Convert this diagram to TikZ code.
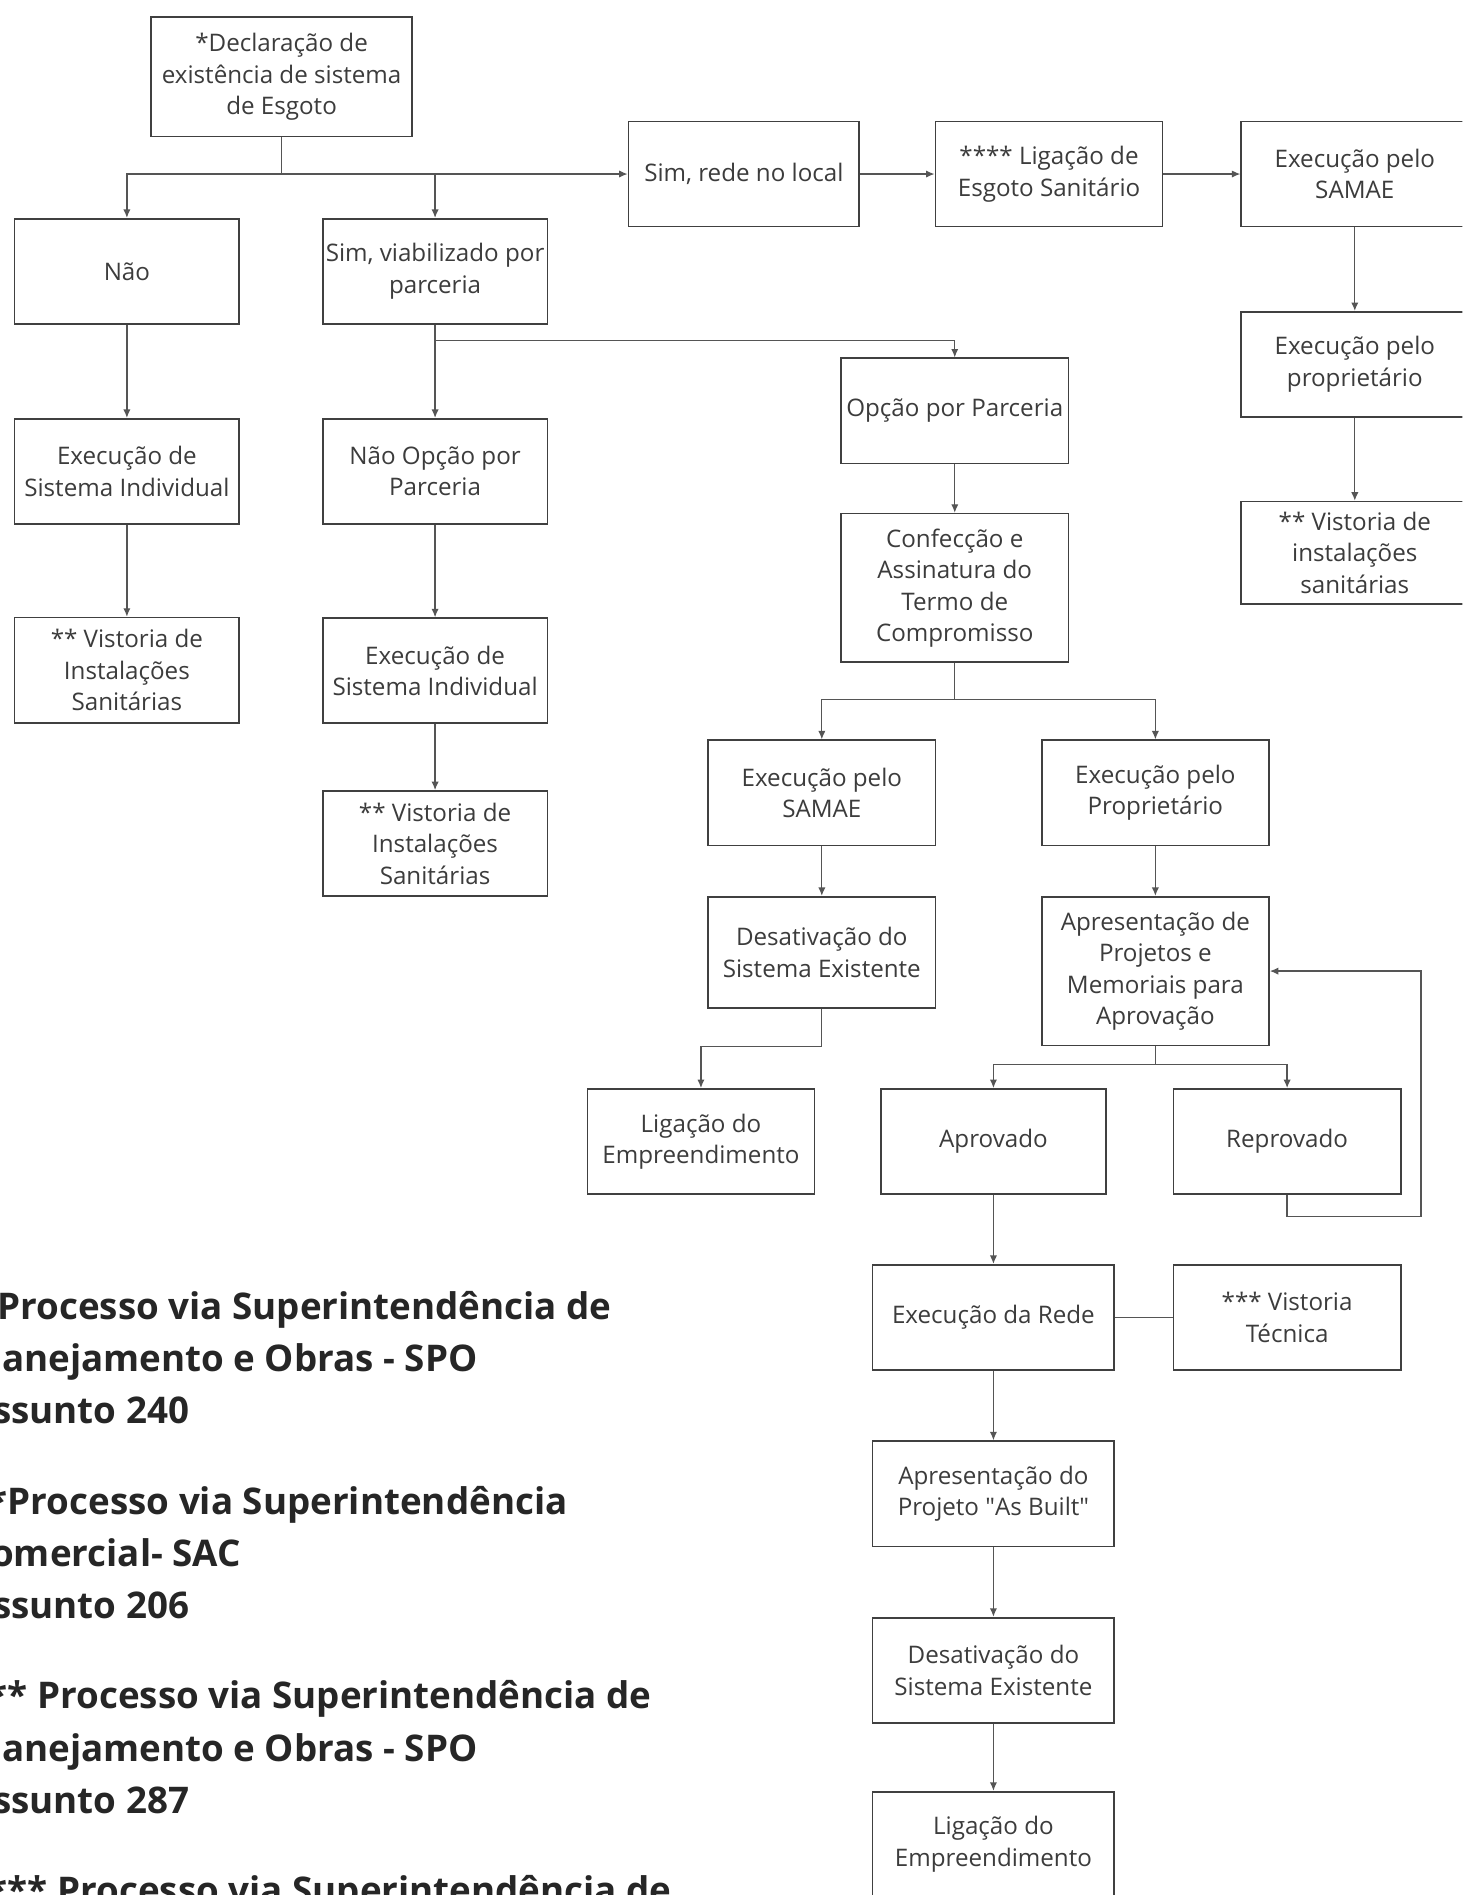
\documentclass[tikz,border=0pt]{standalone}
\usepackage{fontspec}
\setmainfont{Open Sans}
\usetikzlibrary{arrows.meta}
\definecolor{bord}{HTML}{404040}
\definecolor{connc}{HTML}{555555}
\definecolor{txt}{HTML}{3C3C3C}
\definecolor{leg}{HTML}{262626}
\newcommand{\sq}{\XeTeXglyph\XeTeXcharglyph"22\relax}
\begin{document}
\begin{tikzpicture}[x=0.5pt,y=-0.5pt,
  fbox/.style={draw=bord, line width=0.7pt, fill=white, align=center, inner xsep=0pt, inner ysep=1pt,
    text=txt, font=\fontsize{10}{13}\selectfont, minimum width=93pt, minimum height=43.5pt},
  conn/.style={draw=connc, line width=0.55pt},
  arr/.style={conn, -{Latex[length=3.5pt,width=3pt]}},
  legline/.style={anchor=base west, inner sep=0pt, font=\fontsize{15.2}{17}\selectfont\bfseries, text=leg}]
\useasboundingbox (0,0) rectangle (1210,1568);
\clip (0,0) rectangle (1210,1568);
\fill[white] (0,0) rectangle (1210,1568);

% top row
\node[fbox, minimum width=108pt, minimum height=49.5pt] (decl) at (233,63.5) {*Declaração de\\existência de sistema\\de Esgoto};
\node[fbox, minimum width=95.5pt] (simlocal) at (615.5,144) {Sim, rede no local};
\node[fbox, minimum width=94pt] (ligesg) at (868,144) {**** Ligação de\\Esgoto Sanitário};
\node[fbox, minimum width=94pt] (samaeR) at (1121,144) {Execução pelo\\SAMAE};
\node[fbox, minimum width=94pt] (propR) at (1121,301.5) {Execução pelo\\proprietário};
\node[fbox, minimum width=94pt, minimum height=42.5pt] (vistR) at (1121,457.5) {** Vistoria de\\instalações\\sanitárias};

% left columns
\node[fbox] (nao) at (105,224.5) {Não};
\node[fbox] (simparc) at (360,224.5) {Sim, viabilizado por\\parceria};
\node[fbox] (execL) at (105,390) {Execução de\\Sistema Individual};
\node[fbox] (vistL) at (105,554.5) {** Vistoria de\\Instalações\\Sanitárias};
\node[fbox] (naoopc) at (360,390) {Não Opção por\\Parceria};
\node[fbox] (execM) at (360,555) {Execução de\\Sistema Individual};
\node[fbox] (vistM) at (360,698) {** Vistoria de\\Instalações\\Sanitárias};

% partnership branch
\node[fbox, minimum width=94pt] (opc) at (790,340) {Opção por Parceria};
\node[fbox, minimum width=94pt, minimum height=61.5pt] (confec) at (790,486.5) {Confecção e\\Assinatura do\\Termo de\\Compromisso};
\node[fbox, minimum width=94pt] (samaeM) at (680,656) {Execução pelo\\SAMAE};
\node[fbox, minimum width=94pt] (propM) at (956,656) {Execução pelo\\Proprietário};
\node[fbox, minimum width=94pt, minimum height=46pt] (desatM) at (680,788) {Desativação do\\Sistema Existente};
\node[fbox, minimum width=94pt, minimum height=61.5pt] (apres) at (956,803.5) {Apresentação de\\Projetos e\\Memoriais para\\Aprovação};
\node[fbox, minimum width=94pt] (ligM) at (580,944.5) {Ligação do\\Empreendimento};
\node[fbox] (aprov) at (822,944.5) {Aprovado};
\node[fbox, minimum width=94pt] (reprov) at (1065,944.5) {Reprovado};
\node[fbox, minimum width=100pt] (rede) at (822,1090) {Execução da Rede};
\node[fbox, minimum width=94pt] (vtec) at (1065,1090) {*** Vistoria\\Técnica};
\node[fbox, minimum width=100pt] (asb) at (822,1236) {Apresentação do\\Projeto \sq As Built\sq};
\node[fbox, minimum width=100pt] (desatB) at (822,1382) {Desativação do\\Sistema Existente};
\node[fbox, minimum width=100pt] (ligB) at (822,1526) {Ligação do\\Empreendimento};

% connectors
\coordinate (j1) at (decl.south |- simlocal.west);
\draw[conn] (decl.south) -- (j1);
\draw[arr] (j1) -- (simlocal.west);
\draw[arr] (j1) -| (nao.north);
\draw[arr] (j1) -| (simparc.north);
\draw[arr] (simlocal) -- (ligesg);
\draw[arr] (ligesg) -- (samaeR);
\draw[arr] (samaeR) -- (propR);
\draw[arr] (propR) -- (vistR);
\draw[arr] (nao) -- (execL);
\draw[arr] (execL) -- (vistL);
\draw[arr] (simparc) -- (naoopc);
\draw[arr] (naoopc) -- (execM);
\draw[arr] (execM) -- (vistM);
\coordinate (j2) at ([yshift=-6.5pt]simparc.south);
\draw[arr] (j2) -| (opc.north);
\draw[arr] (opc) -- (confec);
\coordinate (j3) at ([yshift=-15pt]confec.south);
\draw[conn] (confec.south) -- (j3);
\draw[arr] (j3) -| (samaeM.north);
\draw[arr] (j3) -| (propM.north);
\draw[arr] (samaeM) -- (desatM);
\draw[arr] (propM) -- (apres);
\coordinate (j5) at ([yshift=-15.5pt]desatM.south);
\draw[arr] (desatM.south) -- (j5) -| (ligM.north);
\coordinate (j4) at ([yshift=-7.5pt]apres.south);
\draw[conn] (apres.south) -- (j4);
\draw[arr] (j4) -| (aprov.north);
\draw[arr] (j4) -| (reprov.north);
\coordinate (lp) at ([xshift=62.5pt]apres.east);
\coordinate (lq) at ([yshift=-9pt]reprov.south);
\draw[arr] (reprov.south) -- (lq) -| (lp) -- (apres.east);
\draw[arr] (aprov) -- (rede);
\draw[conn] (rede) -- (vtec);
\draw[arr] (rede) -- (asb);
\draw[arr] (asb) -- (desatB);
\draw[arr] (desatB) -- (ligB);

% legend (cut by the left and bottom edges, as in the reference)
\node[legline] (l1a) at (-27,1091.6) {* Processo via Superintendência de};
\node[legline] (l1b) at (-27,1134.9) {Planejamento e Obras - SPO};
\node[legline] (l1c) at (-27,1178.2) {Assunto 240};
\node[legline] (l2a) at (-27,1252.8) {**Processo via Superintendência};
\node[legline] (l2b) at (-27,1296.1) {Comercial- SAC};
\node[legline] (l2c) at (-27,1339.4) {Assunto 206};
\node[legline] (l3a) at (-27,1414) {*** Processo via Superintendência de};
\node[legline] (l3b) at (-27,1457.3) {Planejamento e Obras - SPO};
\node[legline] (l3c) at (-27,1500.6) {Assunto 287};
\node[legline] (l4a) at (-27,1575.2) {**** Processo via Superintendência de};
\end{tikzpicture}
\end{document}
